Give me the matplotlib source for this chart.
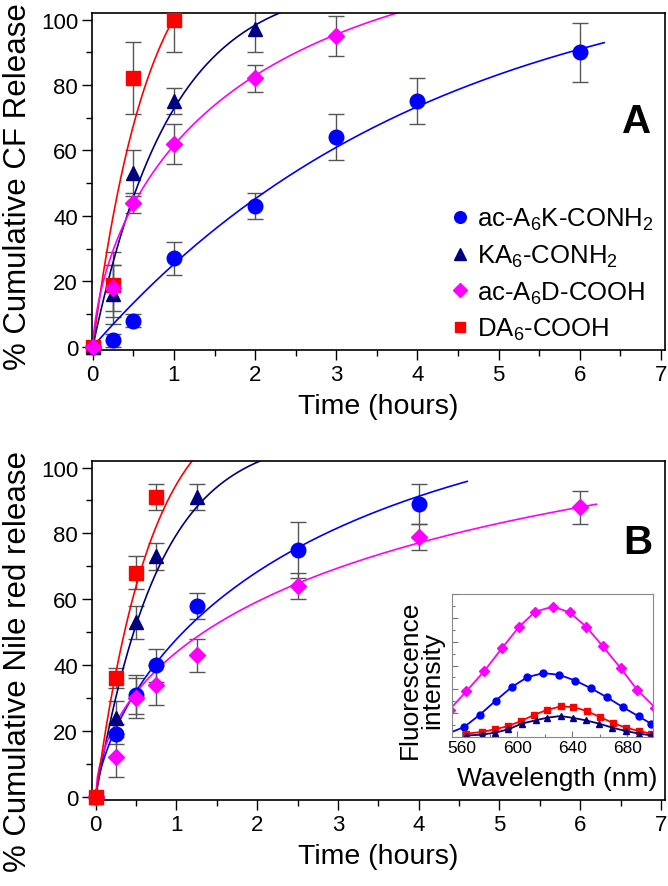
import matplotlib
matplotlib.use('Agg')  # no display
import matplotlib.pyplot as plt
import numpy as np
from matplotlib.ticker import MultipleLocator
from matplotlib.lines import Line2D

plt.rcParams['font.family'] = ['Liberation Sans', 'DejaVu Sans']
plt.rcParams['mathtext.default'] = 'regular'

# series: ac-A6K-CONH2, KA6-CONH2, ac-A6D-COOH, DA6-COOH
labels = ['ac-A$_6$K-CONH$_2$', 'KA$_6$-CONH$_2$', 'ac-A$_6$D-COOH', 'DA$_6$-COOH']
colors = ['#0000ff', '#000080', '#ff00ff', '#ff0000']
markers = ['o', '^', 'D', 's']
msizes = [10.5, 10.5, 8.5, 9.5]

# panel A: CF release (%)
a_t = [[0, 0.25, 0.5, 1, 2, 3, 4, 6],
       [0, 0.25, 0.5, 1, 2],
       [0, 0.25, 0.5, 1, 2, 3],
       [0, 0.25, 0.5, 1]]
a_y = [[0, 2, 8, 27, 43, 64, 75, 90],
       [0, 16, 53, 75, 97],
       [0, 18, 44, 62, 82, 95],
       [0, 19, 82, 100]]
a_err = [[0, 2, 2, 5, 4, 7, 7, 9],
         [0, 9, 7, 4, 7],
         [0, 7, 3, 6, 4, 6],
         [0, 10, 11, 10]]
# fitted release curves y = amp*(1-exp(-rate*t**shape))
a_amp = [120, 112, 130, 131.2]
a_rate = [0.2364, 1.05, 0.642, 1.45]
a_shape = [1.0, 1.0, 0.66, 1.0]
a_tend = [6.3, 2.4, 4.0, 1.0]

# panel B: Nile red release (%)
b_t = [[0, 0.25, 0.5, 0.75, 1.25, 2.5, 4],
       [0, 0.25, 0.5, 0.75, 1.25],
       [0, 0.25, 0.5, 0.75, 1.25, 2.5, 4, 6],
       [0, 0.25, 0.5, 0.75]]
b_y = [[0, 19, 31, 40, 58, 75, 89],
       [0, 24, 53, 73, 91],
       [0, 12, 30, 34, 43, 64, 79, 88],
       [0, 36, 68, 91]]
b_err = [[0, 3, 6, 5, 4, 8.5, 6],
         [0, 5, 5, 4, 4],
         [0, 6, 6, 6, 5, 4, 4, 5],
         [0, 3, 5, 4]]
b_amp = [130, 110, 130, 124]
b_rate = [0.459, 1.2875, 0.412, 1.45]
b_shape = [0.7, 1.0, 0.563, 1.0]
b_tend = [4.6, 2.1, 6.2, 1.3]

# inset: fluorescence spectra (a.u.)
in_wl = [[550, 561.5, 572.8, 584.5, 595.9, 607.3, 618.9, 630.3, 642, 653.3, 665, 676.4, 688, 697],
         [563.2, 574.1, 583.8, 593.5, 603.2, 613.3, 621.8, 631.5, 640.7, 649.7, 659.4, 669.1, 678.8, 688.5, 697.2],
         [551, 563, 576, 589, 601, 613, 626, 638, 650, 662, 675, 687, 700],
         [563.2, 574.1, 583.8, 593.5, 602.7, 612.4, 621.8, 631.5, 640.7, 650.4, 660, 669.3, 678.8, 688.5, 697.2]]
in_int = [[0.15, 0.42, 0.93, 1.53, 2.09, 2.51, 2.68, 2.61, 2.37, 2.05, 1.67, 1.26, 0.87, 0.56],
          [0.06, 0.10, 0.18, 0.32, 0.56, 0.70, 0.81, 0.88, 0.80, 0.70, 0.56, 0.39, 0.25, 0.14, 0.07],
          [1.15, 1.91, 2.76, 3.73, 4.60, 5.26, 5.47, 5.23, 4.63, 3.81, 2.89, 1.98, 1.23],
          [0.14, 0.21, 0.32, 0.46, 0.67, 0.93, 1.14, 1.28, 1.26, 1.09, 0.84, 0.59, 0.39, 0.25, 0.14]]
in_ms = [5, 5, 5, 4.5]

W, H = 668, 887
fig = plt.figure(figsize=(W / 100, H / 100), dpi=100)


def box(l, t, r, b):
    return [l / W, 1 - b / H, (r - l) / W, (b - t) / H]


def release(t, amp, rate, shape):
    return amp * (1 - np.exp(-rate * t ** shape))


def draw_panel(ax, ts, ys, errs, amps, rates, shapes, tends, order, xmin):
    for i in order:
        t = np.array(ts[i], dtype=float)
        y = np.array(ys[i], dtype=float)
        ax.errorbar(t, y, yerr=errs[i], fmt='none', ecolor='#555555', elinewidth=1,
                    capsize=6, capthick=1, zorder=2)
        tt = np.linspace(0, tends[i], 300)
        ax.plot(tt, release(tt, amps[i], rates[i], shapes[i]), color=colors[i], lw=1.2, zorder=2.5)
    for i in order:
        ax.plot(ts[i], ys[i], ls='none', marker=markers[i], ms=msizes[i], color=colors[i],
                mec=colors[i], zorder=3, clip_on=False)
    ax.set_xlim(xmin, 7.05)
    ax.set_ylim(-1, 102)
    ax.xaxis.set_major_locator(MultipleLocator(1))
    ax.xaxis.set_minor_locator(MultipleLocator(0.5))
    ax.yaxis.set_major_locator(MultipleLocator(20))
    ax.yaxis.set_minor_locator(MultipleLocator(10))
    ax.tick_params(which='both', direction='out', top=False, right=False, width=1, labelsize=16, pad=3)
    ax.tick_params(which='major', length=7)
    ax.tick_params(which='minor', length=4)
    for s in ax.spines.values():
        s.set_linewidth(1.2)
    ax.set_xlabel('Time (hours)', fontsize=20.5, labelpad=6)


axA = fig.add_axes(box(92, 14, 665, 351))
draw_panel(axA, a_t, a_y, a_err, a_amp, a_rate, a_shape, a_tend, [0, 3, 1, 2], -0.01)
axB = fig.add_axes(box(92, 462, 665, 801))
draw_panel(axB, b_t, b_y, b_err, b_amp, b_rate, b_shape, b_tend, [1, 0, 2, 3], -0.046)

fig.text(18 / W, 1 - 187 / H, '% Cumulative CF Release', rotation=90, ha='center', va='center', fontsize=22.5)
fig.text(18 / W, 1 - 661 / H, '% Cumulative Nile red release', rotation=90, ha='center', va='center', fontsize=22.5)
fig.text(637 / W, 1 - 122 / H, 'A', ha='center', va='center', fontsize=29, fontweight='bold')
fig.text(638 / W, 1 - 543 / H, 'B', ha='center', va='center', fontsize=29, fontweight='bold')

handles = [Line2D([], [], ls='none', marker=markers[i], color=colors[i], ms=msizes[i] * 0.8) for i in range(4)]
axA.legend(handles, labels, loc='upper left', bbox_to_anchor=((451 - 92) / 573, (351 - 207) / 337),
           frameon=False, fontsize=18.5, handlelength=0.7, handletextpad=0.3, labelspacing=0.41,
           borderpad=0, borderaxespad=0)

# inset spectra
axI = fig.add_axes(box(452, 595, 653, 738))
for i in [0, 3, 1, 2]:
    axI.plot(in_wl[i], in_int[i], color=colors[i], marker=markers[i], ms=in_ms[i], lw=1.3)
axI.set_xlim(552.7, 698.5)
axI.set_ylim(0, 6)
axI.xaxis.set_major_locator(MultipleLocator(40))
axI.xaxis.set_minor_locator(MultipleLocator(20))
axI.yaxis.set_major_locator(MultipleLocator(1))
axI.yaxis.set_minor_locator(MultipleLocator(0.5))
axI.tick_params(which='both', direction='in', top=False, right=False, labelleft=False,
                labelsize=12.5, pad=2, color='#777777', width=0.8)
axI.tick_params(which='major', length=4)
axI.tick_params(which='minor', length=2)
for s in axI.spines.values():
    s.set_color('#888888')
    s.set_linewidth(0.8)
fig.text(421 / W, 1 - 680 / H, 'Fluorescence\nintensity', rotation=90, ha='center', va='center',
         fontsize=19, linespacing=0.9)
fig.text(557 / W, 1 - 779 / H, 'Wavelength (nm)', ha='center', va='center', fontsize=19)

fig.savefig('out.png', dpi=100)
